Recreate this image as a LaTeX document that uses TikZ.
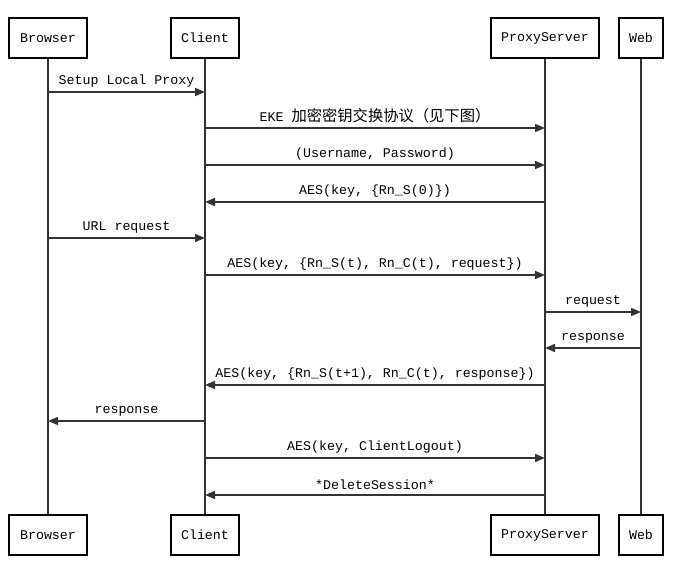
\documentclass[tikz,border=0pt]{standalone}
\usepackage{fontspec}
\setmonofont{Liberation Mono}
\newfontfamily\cjk[Scale=1.15]{Noto Sans CJK SC}
\usetikzlibrary{arrows.meta}

\begin{document}
\begin{tikzpicture}[x=1pt,y=-1pt,
    actor/.style={draw,line width=1.3pt,minimum height=40pt,inner sep=0pt,
        font=\ttfamily\fontsize{13.3}{15}\selectfont},
    life/.style={draw=black!80,line width=1.3pt},
    msg/.style={draw=black!80,line width=1.5pt,-{Triangle[length=10pt,width=8pt]}},
    lbl/.style={midway,above=1pt,text=black,font=\ttfamily\fontsize{13.3}{15}\selectfont}]
                \useasboundingbox (0,0) rectangle (694,573);

                % top boxes
                \node[actor,minimum width=78pt] (BrowserTop) at (48,38) {Browser};
                \node[actor,minimum width=68pt] (ClientTop) at (205,38) {Client};
                \node[actor,minimum width=108pt] (ProxyTop) at (545,38) {ProxyServer};
                \node[actor,minimum width=44pt] (WebTop) at (641,38) {Web};

                % bottom boxes
                \node[actor,minimum width=78pt] (BrowserBot) at (48,535) {Browser};
                \node[actor,minimum width=68pt] (ClientBot) at (205,535) {Client};
                \node[actor,minimum width=108pt] (ProxyBot) at (545,535) {ProxyServer};
                \node[actor,minimum width=44pt] (WebBot) at (641,535) {Web};

                % lifelines
                \draw[life] (BrowserTop) -- (BrowserBot);
                \draw[life] (ClientTop) -- (ClientBot);
                \draw[life] (ProxyTop) -- (ProxyBot);
                \draw[life] (WebTop) -- (WebBot);

                % messages
                \draw[msg] (BrowserTop |- 0,92) -- (ClientTop |- 0,92)
                node[lbl] {Setup Local Proxy};
                \draw[msg] (ClientTop |- 0,128) -- (ProxyTop |- 0,128)
                node[lbl] {EKE {\cjk 加密密钥交换协议（见下图）}};
                \draw[msg] (ClientTop |- 0,165) -- (ProxyTop |- 0,165)
                node[lbl] {(Username, Password)};
                \draw[msg] (ProxyTop |- 0,202) -- (ClientTop |- 0,202)
                node[lbl] {AES(key, \{Rn\_S(0)\})};
                \draw[msg] (BrowserTop |- 0,238) -- (ClientTop |- 0,238)
                node[lbl] {URL request};
                \draw[msg] (ClientTop |- 0,275) -- (ProxyTop |- 0,275)
                node[lbl] {AES(key, \{Rn\_S(t), Rn\_C(t), request\})};
                \draw[msg] (ProxyTop |- 0,312) -- (WebTop |- 0,312)
                node[lbl] {request};
                \draw[msg] (WebTop |- 0,348) -- (ProxyTop |- 0,348)
                node[lbl] {response};
                \draw[msg] (ProxyTop |- 0,385) -- (ClientTop |- 0,385)
                node[lbl] {AES(key, \{Rn\_S(t+1), Rn\_C(t), response\})};
                \draw[msg] (ClientTop |- 0,421) -- (BrowserTop |- 0,421)
                node[lbl] {response};
                \draw[msg] (ClientTop |- 0,458) -- (ProxyTop |- 0,458)
                node[lbl] {AES(key, ClientLogout)};
                \draw[msg] (ProxyTop |- 0,495) -- (ClientTop |- 0,495)
                node[lbl] {*DeleteSession*};
\end{tikzpicture}
\end{document}
